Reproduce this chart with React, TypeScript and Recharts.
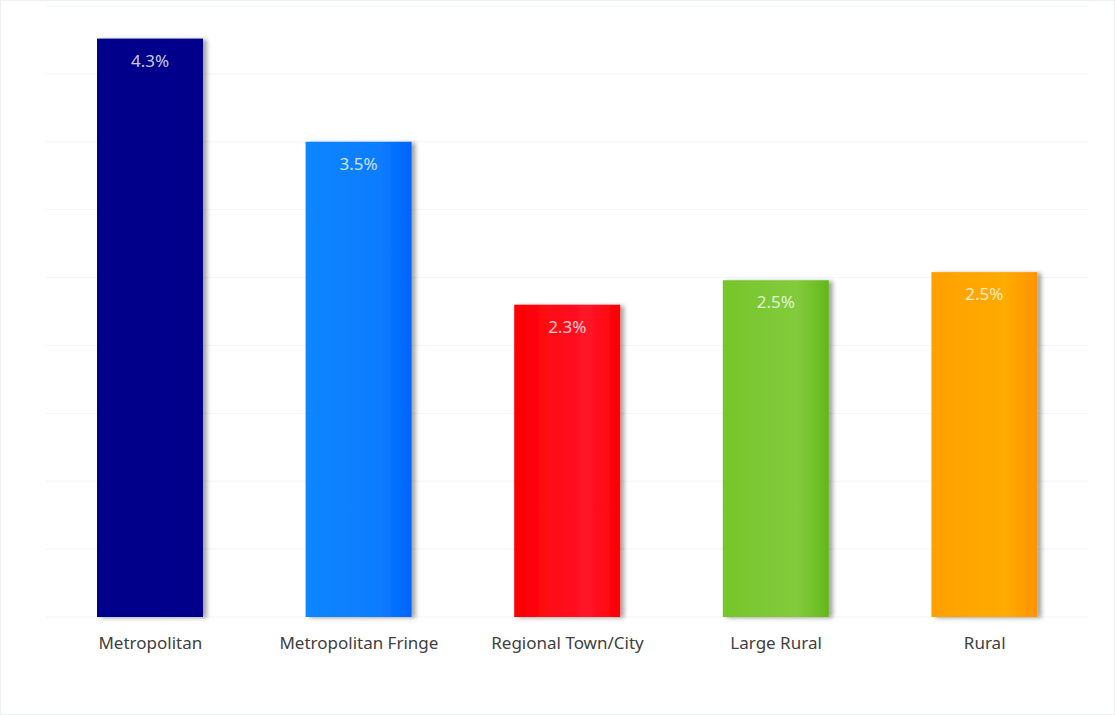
import React from 'react';
import { BarChart, Bar, XAxis, YAxis, CartesianGrid, Cell, LabelList } from 'recharts';

const categories = ['Metropolitan', 'Metropolitan Fringe', 'Regional Town/City', 'Large Rural', 'Rural'];
const values = [4.26, 3.5, 2.3, 2.48, 2.54];
const yTicks = [0, 0.5, 1, 1.5, 2, 2.5, 3, 3.5, 4, 4.5];

// left / middle / right colour of each bar's horizontal gradient
const gradients = [
  ['#00008a', '#00008c', '#00008a'],
  ['#0a86ff', '#0a7cff', '#0064ff'],
  ['#ff0000', '#ff1428', '#ff0000'],
  ['#76c52a', '#82cb3c', '#62b81a'],
  ['#ffa000', '#ffab06', '#ff9300'],
];

const data = categories.map((name, i) => ({ name, value: values[i] }));

const ShadowBar = (props: any) => {
  const { x, y, width, height, fill } = props;
  if (!height || height <= 0) return null;
  return <rect x={x} y={y} width={width} height={height} fill={fill} filter="url(#barShadow)" />;
};

export default function App() {
  return (
    <div style={{ position: 'absolute', left: 0, top: 0, width: 1115, height: 715, background: '#fff', boxSizing: 'border-box', border: '1px solid #eef0f0' }}>
      <BarChart
        width={1113}
        height={713}
        data={data}
        margin={{ top: 5, right: 25, left: 45, bottom: 0 }}
        barCategoryGap={0}
      >
        <defs>
          {gradients.map((g, i) => (
            <linearGradient key={i} id={`g${i}`} x1="0" y1="0" x2="1" y2="0">
              <stop offset="0%" stopColor={g[0]} />
              <stop offset="70%" stopColor={g[1]} />
              <stop offset="100%" stopColor={g[2]} />
            </linearGradient>
          ))}
          <filter id="barShadow" x="-10%" y="-10%" width="130%" height="120%">
            <feDropShadow dx="4" dy="1" stdDeviation="2" floodColor="#000" floodOpacity="0.35" />
          </filter>
        </defs>
        <CartesianGrid vertical={false} stroke="#f1f6f6" />
        <YAxis hide domain={[0, 4.5]} ticks={yTicks} />
        <XAxis
          dataKey="name"
          axisLine={false}
          tickLine={false}
          height={97}
          tick={{ fill: '#404040', fontSize: 17, fontFamily: 'Noto Sans' }}
          dy={12}
        />
        <Bar dataKey="value" barSize={106} isAnimationActive={false} shape={<ShadowBar />}>
          {data.map((_, i) => (
            <Cell key={i} fill={`url(#g${i})`} />
          ))}
          <LabelList
            dataKey="value"
            position="insideTop"
            offset={16}
            formatter={(v: any) => Number(v).toFixed(1) + '%'}
            style={{ fill: 'rgba(255,255,255,0.8)', fontSize: 17, fontFamily: 'Noto Sans' }}
          />
        </Bar>
      </BarChart>
    </div>
  );
}
